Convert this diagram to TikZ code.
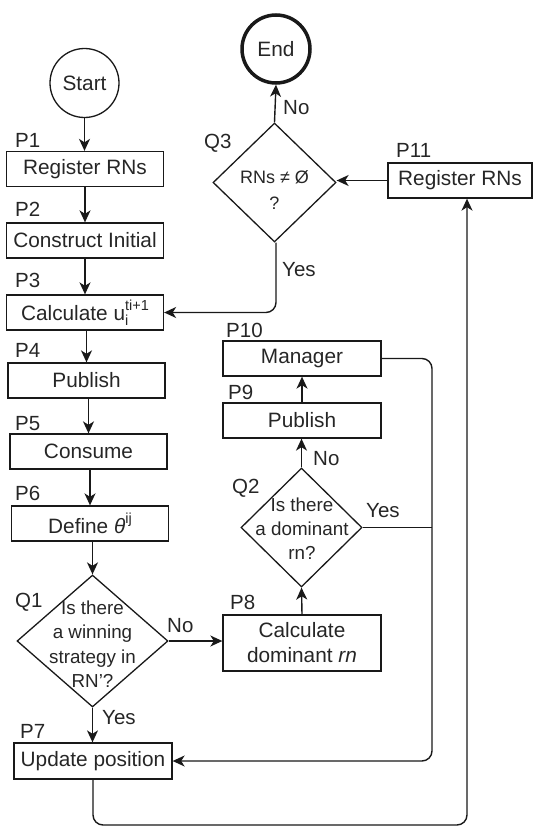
\documentclass[tikz,border=0pt]{standalone}
\usepackage{fontspec}
\setmainfont{Liberation Sans}
\usetikzlibrary{shapes.geometric, arrows.meta, calc}

\begin{document}
\begin{tikzpicture}[x=1pt, y=-1pt,
  every node/.style={text=black!85},
  txt/.style={font=\fontsize{20.8}{25}\selectfont},
  box/.style={draw=black!90, line width=1.3pt, rectangle, minimum width=157pt,
              minimum height=35pt, inner sep=0pt, align=center, txt},
  dia/.style={draw=black!90, line width=1.3pt, diamond, inner sep=0pt},
  dtxt/.style={align=center, inner sep=0pt, font=\fontsize{18.8}{24.5}\selectfont},
  lbl/.style={anchor=base west, inner sep=0pt, font=\fontsize{20.5}{24}\selectfont},
  conn/.style={draw=black!90, line width=1.4pt, rounded corners=10pt},
  arr/.style={conn, -{Stealth[length=12pt, width=11pt, inset=3.5pt]}}
]
\useasboundingbox (0,0) rectangle (537,827);

% terminals
\node[circle, draw=black!90, line width=1.3pt, minimum size=69pt, inner sep=0pt, txt] (start) at (84.5,83) {Start};
\node[circle, draw=black!90, line width=3.5pt, minimum size=68pt, inner sep=0pt, txt] (end) at (276,49) {End};

% main column
\node[box] (p1) at (85,169) {Register RNs};
\node[box] (p2) at (85,240.5) {Construct Initial};
\node[box] (p3) at (85,312.5) {Calculate u\rlap{\raisebox{-0.45ex}{\fontsize{14.5}{14}\selectfont i}}\raisebox{0.9ex}{\fontsize{14.5}{14}\selectfont ti+1}};
\node[box] (p4) at (86.5,380.5) {Publish};
\node[box] (p5) at (88.5,451.5) {Consume};
\node[box] (p6) at (90,523.5) {Define {\itshape θ}\raisebox{0.9ex}{\fontsize{14.5}{14}\selectfont ij}};
\node[dia, minimum width=151pt, minimum height=132pt] (q1) at (92.5,641) {};
\node[dtxt] at (92.5,644) {Is there\\a winning\\strategy in\\RN'?};
\node[box, minimum width=158pt, minimum height=36pt] (p7) at (93,761) {Update position};

% right column
\node[box, minimum width=158pt, minimum height=56pt, font=\fontsize{20.8}{25}\selectfont] (p8) at (302,643) {Calculate\\dominant \textit{rn}};
\node[dia, minimum width=121pt, minimum height=119pt] (q2) at (301.5,527.5) {};
\node[dtxt, font=\fontsize{18.8}{24}\selectfont] at (302,529) {Is there\\a dominant\\rn?};
\node[box, minimum width=158pt] (p9) at (302,420.5) {Publish};
\node[box, minimum width=158pt] (p10) at (302,358.5) {Manager};

% upper right
\node[box, minimum width=144pt] (p11) at (460,180.5) {Register RNs};
\node[dia, minimum width=123pt, minimum height=119pt] (q3) at (274.5,182.5) {};
\node[dtxt, font=\fontsize{18}{26}\selectfont] at (274.5,190) {RNs ≠ Ø\\?};

% step labels
\node[lbl] (l1) at (15,147) {P1};
\node[lbl] (l2) at (15,216) {P2};
\node[lbl] (l3) at (15,287) {P3};
\node[lbl] (l4) at (15,357) {P4};
\node[lbl] (l5) at (15,430) {P5};
\node[lbl] (l6) at (15,500) {P6};
\node[lbl] (lq1) at (15,607) {Q1};
\node[lbl] (l7) at (20,738) {P7};
\node[lbl] (l8) at (230,609) {P8};
\node[lbl] (lq2) at (232,493) {Q2};
\node[lbl] (l9) at (228,399) {P9};
\node[lbl] (l10) at (226,337) {P10};
\node[lbl] (lq3) at (204,148) {Q3};
\node[lbl] (l11) at (396,157) {P11};

% branch labels
\node[lbl] (n3) at (283,114) {No};
\node[lbl] (y3) at (282,276) {Yes};
\node[lbl] (n1) at (167,632) {No};
\node[lbl] (y1) at (102,724) {Yes};
\node[lbl] (n2) at (313,465) {No};
\node[lbl] (y2) at (366,517) {Yes};

% routing points
\coordinate (rx) at (432,0);
\coordinate (bx) at (467,825);
\coordinate (yx) at (276,0);

% main flow
\draw[arr] (start.south) -- (start.south |- p1.north);
\draw[arr] (p2.north |- p1.south) -- (p2.north);
\draw[arr] (p3.north |- p2.south) -- (p3.north);
\draw[arr] (p4.north |- p3.south) -- (p4.north);
\draw[arr] (p5.north |- p4.south) -- (p5.north);
\draw[arr] (p6.north |- p5.south) -- (p6.north);
\draw[arr] (q1.north |- p6.south) -- (q1.north);
\draw[arr] (q1.south) -- (q1.south |- p7.north);
\draw[arr] (q1.east) -- (q1.east -| p8.west);

% dominant branch
\draw[arr] (p8.north) -- (q2.south);
\draw[arr] (q2.north) -- (q2.north |- p9.south);
\draw[arr] (p9.north) -- (p9.north |- p10.south);
\draw[arr] (p10.east) -- (p10.east -| rx) -- (rx |- p7.east) -- (p7.east);
\draw[conn] (q2.east) -- (q2.east -| rx);

% outer loop
\draw[arr] (p7.south) -- (p7.south |- bx) -- (bx) -- (bx |- p11.south);
\draw[arr] (p11.west) -- (p11.west -| q3.east);
\draw[arr] (q3.north) -- (end.south);
\draw[arr] (q3.south -| yx) -- (yx |- p3.east) -- (p3.east);
\end{tikzpicture}
\end{document}
